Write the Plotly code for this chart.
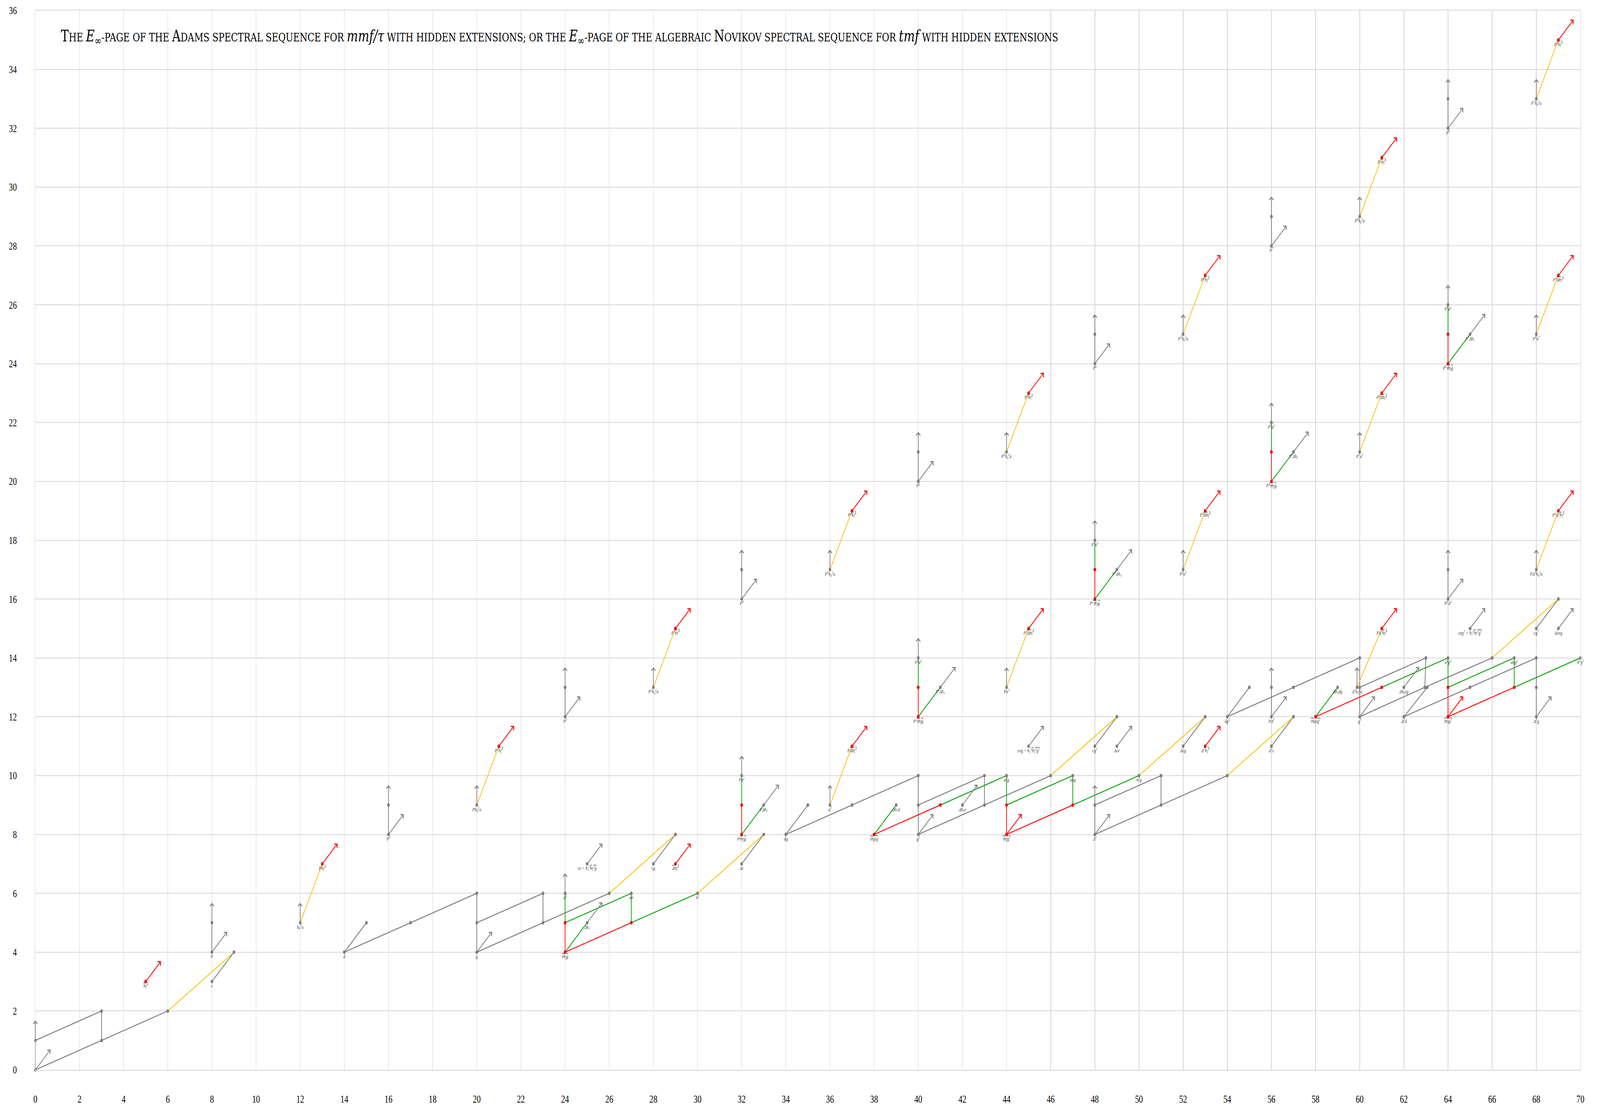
import plotly.graph_objects as go

# ---------------- data (stem, Adams filtration) ----------------
GRAY_DOTS = [
    (0, 0), (0, 1), (3, 1), (3, 2), (6, 2), (8, 3), (9, 4), (8, 4), (8, 5), (12, 5),
    (14, 4), (15, 5), (17, 5), (16, 8), (16, 9), (20, 4), (20, 5), (20, 6), (20, 9),
    (23, 5), (23, 6), (26, 6), (24, 6), (25, 5), (27, 6), (30, 6), (25, 7), (28, 7),
    (29, 8), (32, 7), (33, 8), (24, 12), (24, 13), (28, 13), (32, 10), (33, 9), (34, 8),
    (35, 9), (37, 9), (36, 9), (32, 16), (32, 17), (36, 17), (40, 8), (40, 9), (40, 10),
    (43, 9), (43, 10), (46, 10), (39, 9), (42, 9), (44, 10), (47, 10), (50, 10), (45, 11),
    (48, 11), (49, 11), (49, 12), (40, 14), (41, 13), (44, 13), (40, 20), (40, 21),
    (44, 21), (48, 8), (48, 9), (51, 9), (51, 10), (54, 10), (52, 11), (53, 12), (56, 11),
    (57, 12), (54, 12), (55, 13), (57, 13), (56, 12), (56, 13), (48, 18), (49, 17),
    (52, 17), (48, 24), (48, 25), (52, 25), (60, 12), (60, 13), (60, 14), (62.95, 13),
    (63, 14), (66, 14), (59, 13), (62, 13), (62, 12), (63.06, 13), (65, 13), (68, 14),
    (68, 12), (68, 13), (64, 14), (67, 14), (70, 14), (65, 15), (68, 15), (69, 15),
    (69, 16), (59.88, 13), (64, 16), (64, 17), (68, 17), (56, 22), (57, 21), (60, 21),
    (56, 28), (56, 29), (60, 29), (64, 26), (65, 25), (68, 25), (64, 32), (64, 33), (68, 33),
]

RED_DOTS = [
    (5, 3), (13, 7), (21, 11), (29, 15), (37, 19), (45, 23), (53, 27), (61, 31), (69, 35),
    (29, 7), (37, 11), (45, 15), (53, 19), (61, 23), (69, 27),
    (53, 11), (61, 15), (69, 19),
    (24, 4), (24, 5), (27, 5), (32, 8), (32, 9), (40, 12), (40, 13), (48, 16), (48, 17),
    (56, 20), (56, 21), (64, 24), (64, 25),
    (38, 8), (41, 9), (44, 8), (44, 9), (47, 9), (58, 12), (61, 13), (64, 12), (64, 13), (67, 13),
]

GRAY_LINES = [
    ((0, 0), (0, 1)), ((0, 0), (3, 1)), ((0, 1), (3, 2)), ((3, 1), (3, 2)), ((3, 1), (6, 2)),
    ((8, 3), (9, 4)), ((8, 4), (8, 5)), ((14, 4), (15, 5)), ((14, 4), (17, 5)), ((17, 5), (20, 6)),
    ((20, 4), (20, 5)), ((20, 5), (20, 6)), ((20, 4), (23, 5)), ((20, 5), (23, 6)),
    ((23, 5), (23, 6)), ((23, 5), (26, 6)), ((28, 7), (29, 8)), ((32, 7), (33, 8)),
    ((16, 8), (16, 9)), ((24, 12), (24, 13)), ((32, 16), (32, 17)), ((40, 20), (40, 21)),
    ((48, 24), (48, 25)), ((56, 28), (56, 29)), ((64, 32), (64, 33)),
    ((34, 8), (35, 9)), ((34, 8), (37, 9)), ((37, 9), (40, 10)), ((40, 8), (40, 9)),
    ((40, 9), (40, 10)), ((40, 8), (43, 9)), ((40, 9), (43, 10)), ((43, 9), (43, 10)),
    ((43, 9), (46, 10)), ((48, 11), (49, 12)),
    ((48, 8), (48, 9)), ((48, 8), (51, 9)), ((48, 9), (51, 10)), ((51, 9), (51, 10)),
    ((51, 9), (54, 10)), ((52, 11), (53, 12)), ((56, 11), (57, 12)), ((56, 12), (56, 13)),
    ((54, 12), (55, 13)), ((54, 12), (57, 13)), ((57, 13), (60, 14)), ((60, 12), (60, 13)),
    ((60, 13), (60, 14)), ((60, 12), (62.95, 13)), ((60, 13), (63, 14)), ((62.95, 13), (63, 14)),
    ((62.95, 13), (66, 14)), ((68, 15), (69, 16)), ((62, 12), (63.06, 13)), ((62, 12), (65, 13)),
    ((65, 13), (68, 14)), ((68, 12), (68, 13)), ((68, 13), (68, 14)), ((64, 16), (64, 17)),
]

ORANGE_LINES = [
    ((6, 2), (9, 4)), ((26, 6), (29, 8)), ((30, 6), (33, 8)), ((46, 10), (49, 12)),
    ((50, 10), (53, 12)), ((54, 10), (57, 12)), ((66, 14), (69, 16)),
    ((12, 5), (13, 7)), ((20, 9), (21, 11)), ((28, 13), (29, 15)), ((36, 17), (37, 19)),
    ((44, 21), (45, 23)), ((52, 25), (53, 27)), ((60, 29), (61, 31)), ((68, 33), (69, 35)),
    ((36, 9), (37, 11)), ((44, 13), (45, 15)), ((52, 17), (53, 19)), ((60, 21), (61, 23)),
    ((68, 25), (69, 27)), ((59.88, 13), (61, 15)), ((68, 17), (69, 19)),
]

RED_LINES = [
    ((24, 4), (24, 5)), ((24, 4), (27, 5)), ((32, 8), (32, 9)), ((40, 12), (40, 13)),
    ((48, 16), (48, 17)), ((56, 20), (56, 21)), ((64, 24), (64, 25)),
    ((38, 8), (41, 9)), ((44, 8), (44, 9)), ((44, 8), (47, 9)), ((58, 12), (61, 13)),
    ((64, 12), (64, 13)), ((64, 12), (67, 13)),
]

GREEN_LINES = [
    ((24, 5), (24, 6)), ((24, 4), (25, 5)), ((24, 5), (27, 6)), ((27, 5), (27, 6)),
    ((27, 5), (30, 6)), ((32, 9), (32, 10)), ((32, 8), (33, 9)), ((40, 13), (40, 14)),
    ((40, 12), (41, 13)), ((48, 17), (48, 18)), ((48, 16), (49, 17)), ((56, 21), (56, 22)),
    ((56, 20), (57, 21)), ((64, 25), (64, 26)), ((64, 24), (65, 25)),
    ((38, 8), (39, 9)), ((41, 9), (44, 10)), ((44, 9), (44, 10)), ((44, 9), (47, 10)),
    ((47, 9), (47, 10)), ((47, 9), (50, 10)), ((58, 12), (59, 13)), ((61, 13), (64, 14)),
    ((64, 13), (64, 14)), ((64, 13), (67, 14)), ((67, 13), (67, 14)), ((67, 13), (70, 14)),
]

# h1-towers (diagonal arrows)
GRAY_H1_ARROWS = [
    (0, 0), (8, 4), (16, 8), (24, 12), (32, 16), (40, 20), (48, 24), (56, 28), (64, 32),
    (20, 4), (40, 8), (60, 12), (48, 8), (56, 12), (64, 16), (68, 12),
    (25, 5), (33, 9), (41, 13), (49, 17), (57, 21), (65, 25),
    (25, 7), (45, 11), (65, 15), (49, 11), (69, 15), (42, 9), (62, 13),
]
RED_H1_ARROWS = [
    (5, 3), (13, 7), (21, 11), (29, 15), (37, 19), (45, 23), (53, 27), (61, 31), (69, 35),
    (29, 7), (37, 11), (45, 15), (53, 19), (61, 23), (69, 27),
    (53, 11), (61, 15), (69, 19), (44, 8), (64, 12),
]
# h0-towers (vertical arrows)
GRAY_H0_ARROWS = [
    (0, 1), (8, 5), (16, 9), (24, 13), (32, 17), (40, 21), (48, 25), (56, 29), (64, 33),
    (12, 5), (20, 9), (28, 13), (36, 17), (44, 21), (52, 25), (60, 29), (68, 33),
    (24, 6), (32, 10), (40, 14), (48, 18), (56, 22), (64, 26),
    (36, 9), (44, 13), (52, 17), (60, 21), (68, 25),
    (48, 9), (56, 13), (64, 17), (59.88, 13), (68, 17),
]


def OL(s):
    return '<span style="text-decoration:overline">' + s + '</span>'


H14 = OL("h<sub>1</sub><sup>4</sup>")
DH14 = OL("Δh<sub>1</sub><sup>4</sup>")
TH2G = OL("τh<sub>2</sub>g")

LABELS = [
    (5, 3, H14), (8, 3, "c"), (8, 4, "P"), (12, 5, "h<sub>0</sub><sup>2</sup>a"),
    (13, 7, "P" + H14), (14, 4, "d"), (16, 8, "P<sup>2</sup>"), (20, 4, "g"),
    (20, 9, "Ph<sub>0</sub><sup>2</sup>a"), (21, 11, "P<sup>2</sup>" + H14),
    (24, 4, TH2G), (24, 6, "a<sup>2</sup>"), (25, 5, "Δh<sub>1</sub>"), (27, 6, "an"),
    (30, 6, "n<sup>2</sup>"), (25, 7, "ce + h<sub>1</sub><sup>2</sup>" + OL("h<sub>1</sub><sup>2</sup>g")),
    (28, 7, "cg"), (29, 7, DH14), (32, 7, "Δc"), (32, 8, "P" + TH2G), (32, 10, "Pa<sup>2</sup>"),
    (33, 9, "PΔh<sub>1</sub>"), (34, 8, "dg"), (24, 12, "P<sup>3</sup>"),
    (28, 13, "P<sup>2</sup>h<sub>0</sub><sup>2</sup>a"), (29, 15, "P<sup>3</sup>" + H14),
    (32, 16, "P<sup>4</sup>"), (36, 17, "P<sup>3</sup>h<sub>0</sub><sup>2</sup>a"),
    (37, 19, "P<sup>4</sup>" + H14), (36, 9, "a<sup>3</sup>"), (37, 11, "P" + DH14),
    (38, 8, OL("τh<sub>0</sub>eg")), (39, 9, "Δh<sub>1</sub>d"), (40, 8, "g<sup>2</sup>"),
    (40, 12, "P<sup>2</sup>" + TH2G), (40, 14, "P<sup>2</sup>a<sup>2</sup>"),
    (41, 13, "P<sup>2</sup>Δh<sub>1</sub>"), (40, 20, "P<sup>5</sup>"), (42, 9, "Δh<sub>1</sub>e"),
    (44, 8, OL("τh<sub>2</sub>g<sup>2</sup>")), (44, 10, "a<sup>2</sup>g"), (44, 13, "Pa<sup>3</sup>"),
    (44, 21, "P<sup>4</sup>h<sub>0</sub><sup>2</sup>a"),
    (45, 11, "ceg + h<sub>1</sub><sup>2</sup>" + OL("h<sub>1</sub><sup>2</sup>g<sup>2</sup>")),
    (45, 15, "P<sup>2</sup>" + DH14), (45, 23, "P<sup>5</sup>" + H14), (47, 10, "ang"),
    (48, 8, "Δ<sup>2</sup>"), (48, 11, "cg<sup>2</sup>"), (49, 11, "Δce"), (50, 10, "n<sup>2</sup>g"),
    (48, 16, "P<sup>3</sup>" + TH2G), (48, 18, "P<sup>3</sup>a<sup>2</sup>"),
    (49, 17, "P<sup>3</sup>Δh<sub>1</sub>"), (48, 24, "P<sup>6</sup>"), (52, 11, "Δcg"),
    (53, 11, "Δ<sup>2</sup>" + H14), (52, 17, "P<sup>2</sup>a<sup>3</sup>"),
    (53, 19, "P<sup>3</sup>" + DH14), (52, 25, "P<sup>5</sup>h<sub>0</sub><sup>2</sup>a"),
    (53, 27, "P<sup>6</sup>" + H14), (54, 12, "dg<sup>2</sup>"), (56, 11, "Δ<sup>2</sup>c"),
    (56, 12, "PΔ<sup>2</sup>"), (56, 20, "P<sup>4</sup>" + TH2G), (56, 22, "P<sup>4</sup>a<sup>2</sup>"),
    (57, 21, "P<sup>4</sup>Δh<sub>1</sub>"), (56, 28, "P<sup>7</sup>"),
    (58, 12, OL("τh<sub>0</sub>eg<sup>2</sup>")), (59, 13, "Δh<sub>1</sub>dg"), (60, 12, "g<sup>3</sup>"),
    (59.88, 13, "Δ<sup>2</sup>h<sub>0</sub><sup>2</sup>a"), (60, 21, "P<sup>3</sup>a<sup>3</sup>"),
    (60, 29, "P<sup>6</sup>h<sub>0</sub><sup>2</sup>a"), (61, 15, "PΔ<sup>2</sup>" + H14),
    (61, 23, "P<sup>4</sup>" + DH14), (61, 31, "P<sup>7</sup>" + H14), (62, 12, "Δ<sup>2</sup>d"),
    (62, 13, "Δh<sub>1</sub>eg"), (64, 12, OL("τh<sub>2</sub>g<sup>3</sup>")),
    (64, 14, "a<sup>2</sup>g<sup>2</sup>"), (64, 16, "P<sup>2</sup>Δ<sup>2</sup>"),
    (64, 24, "P<sup>5</sup>" + TH2G), (64, 26, "P<sup>5</sup>a<sup>2</sup>"),
    (65, 25, "P<sup>5</sup>Δh<sub>1</sub>"), (64, 32, "P<sup>8</sup>"),
    (65, 15, "ceg<sup>2</sup> + h<sub>1</sub><sup>2</sup>" + OL("h<sub>1</sub><sup>2</sup>g<sup>3</sup>")),
    (67, 14, "ang<sup>2</sup>"), (68, 12, "Δ<sup>2</sup>g"), (68, 15, "cg<sup>3</sup>"),
    (69, 15, "Δceg"), (68, 17, "PΔ<sup>2</sup>h<sub>0</sub><sup>2</sup>a"),
    (69, 19, "P<sup>2</sup>Δ<sup>2</sup>" + H14), (68, 25, "P<sup>4</sup>a<sup>3</sup>"),
    (69, 27, "P<sup>5</sup>" + DH14), (68, 33, "P<sup>7</sup>h<sub>0</sub><sup>2</sup>a"),
    (69, 35, "P<sup>8</sup>" + H14), (70, 14, "n<sup>2</sup>g<sup>2</sup>"),
]

TITLE_PARTS = [
    ("sc", "The "), ("math", "E<sub>∞</sub>"), ("sc", "-page of the Adams spectral sequence for "),
    ("math", "mmf/τ"), ("sc", " with hidden extensions; or the "), ("math", "E<sub>∞</sub>"),
    ("sc", "-page of the algebraic Novikov spectral sequence for "), ("math", "tmf"),
    ("sc", " with hidden extensions"),
]

X_TICKS = list(range(0, 71, 2))
Y_TICKS = list(range(0, 37, 2))

# ---------------- style ----------------
GRAY = "#808080"
RED = "#ff0000"
GREEN = "#00a000"
ORANGE = "#ffbf00"
GRID = "#d6d6d6"
FONT = "Liberation Serif"
TITLE_FONT = "DejaVu Serif"
H1_DX, H1_DY, H0_DY = 0.69, 0.69, 0.68
W, H = 5480, 2851

fig = go.Figure()


def add_lines(pairs, color, width):
    xs, ys = [], []
    for (a, b) in pairs:
        xs += [a[0], b[0], None]
        ys += [a[1], b[1], None]
    fig.add_trace(go.Scatter(x=xs, y=ys, mode="lines", line=dict(color=color, width=width),
                             hoverinfo="skip", showlegend=False))


add_lines(GRAY_LINES, GRAY, 2.6)
add_lines(ORANGE_LINES, ORANGE, 2.4)
add_lines(RED_LINES, RED, 2.4)
add_lines(GREEN_LINES, GREEN, 2.4)


def add_dots(pts, color):
    fig.add_trace(go.Scatter(x=[p[0] for p in pts], y=[p[1] for p in pts], mode="markers",
                             marker=dict(color=color, size=9, line=dict(width=0)),
                             cliponaxis=False, hoverinfo="skip", showlegend=False))


add_dots(GRAY_DOTS, GRAY)
add_dots(RED_DOTS, RED)

fig.add_trace(go.Scatter(
    x=[l[0] for l in LABELS], y=[l[1] - 0.16 for l in LABELS],
    text=["<i>" + l[2] + "</i>" for l in LABELS], mode="text",
    textfont=dict(family=FONT, size=13, color="#333333"), textposition="middle center",
    cliponaxis=False, hoverinfo="skip", showlegend=False))

anns = []


def arrow(x0, y0, x1, y1, color):
    anns.append(dict(x=x1, y=y1, ax=x0, ay=y0, xref="x", yref="y", axref="x", ayref="y",
                     text="", showarrow=True, arrowhead=4, arrowsize=1.1, arrowwidth=2.4,
                     arrowcolor=color, standoff=0, startstandoff=0))


for (s, f) in GRAY_H1_ARROWS:
    arrow(s, f, s + H1_DX, f + H1_DY, GRAY)
for (s, f) in RED_H1_ARROWS:
    arrow(s, f, s + H1_DX, f + H1_DY, RED)
for (s, f) in GRAY_H0_ARROWS:
    arrow(s, f, s, f + H0_DY, GRAY)

BIG, SMALL = 40.5, 30.6


def smallcaps(t):
    runs = []
    for ch in t:
        if ch.isalpha() and ch.isupper():
            sz, c = BIG, ch
        elif ch.isalpha():
            sz, c = SMALL, ch.upper()
        else:
            sz, c = SMALL, ch
        if runs and runs[-1][0] == sz:
            runs[-1][1] += c
        else:
            runs.append([sz, c])
    return "".join('<span style="font-size:%gpx">%s</span>' % (sz, c) for sz, c in runs)


title_html = ""
for kind, t in TITLE_PARTS:
    if kind == "sc":
        title_html += smallcaps(t)
    else:
        title_html += '<span style="font-size:%gpx"><i>%s</i></span>' % (BIG, t)

anns.append(dict(x=1.12, y=35.1, xref="x", yref="y", xanchor="left", yanchor="middle",
                 text=title_html, showarrow=False,
                 font=dict(family=TITLE_FONT, size=SMALL, color="black")))

fig.update_layout(
    width=W, height=H, autosize=False,
    margin=dict(l=121, r=67, t=16, b=113),
    paper_bgcolor="white", plot_bgcolor="white",
    annotations=anns, hovermode=False,
    xaxis=dict(range=[0, 70], tickvals=X_TICKS, ticktext=[str(v) for v in X_TICKS],
               showgrid=True, gridcolor=GRID, gridwidth=2, zeroline=False,
               showline=True, linecolor=GRID, linewidth=2, mirror=True, ticks="",
               tickfont=dict(family=FONT, size=27, color="black"), ticklabelstandoff=50),
    yaxis=dict(range=[0, 36], tickvals=Y_TICKS, ticktext=[str(v) for v in Y_TICKS],
               showgrid=True, gridcolor=GRID, gridwidth=2, zeroline=False,
               showline=True, linecolor=GRID, linewidth=2, mirror=True, ticks="",
               tickfont=dict(family=FONT, size=27, color="black"), ticklabelstandoff=56),
)

# Fit the 5480x2851 figure exactly into whatever viewport the page is shown in.
POST = (
    "var gd=document.getElementById('{plot_id}');"
    "var de=document.documentElement;"
    "de.style.margin='0';de.style.overflow='hidden';"
    "document.body.style.margin='0';document.body.style.overflow='hidden';"
    "var vw=window.innerWidth, vh=window.innerHeight;"
    "var sx=vw/%d, sy=vh/%d;"
    "if(Math.abs(sx-1)>0.002||Math.abs(sy-1)>0.002){"
    "gd.style.transformOrigin='0 0';"
    "gd.style.transform='scale('+sx+','+sy+')';}"
) % (W, H)

fig.write_html("out.html", post_script=POST, config={"displayModeBar": False})
